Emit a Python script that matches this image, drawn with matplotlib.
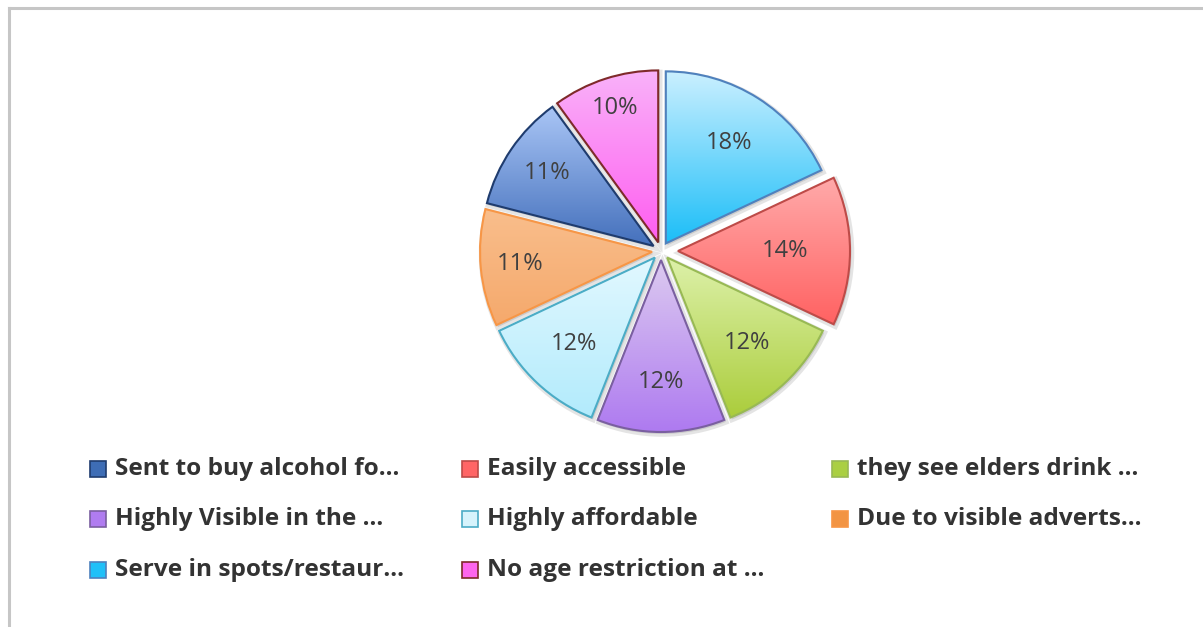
import matplotlib
matplotlib.use("Agg")
import matplotlib.pyplot as plt
import numpy as np
from matplotlib.patches import Wedge, Rectangle
from matplotlib.colors import LinearSegmentedColormap
from matplotlib.lines import Line2D

# Reasons, in legend order, with their share of responses (%)
categories = [
    "Sent to buy alcohol fo...",
    "Easily accessible",
    "they see elders drink ...",
    "Highly Visible in the ...",
    "Highly affordable",
    "Due to visible adverts...",
    "Serve in spots/restaur...",
    "No age restriction at ...",
]
shares = [11, 14, 12, 12, 12, 11, 18, 10]

# Order of slices, clockwise from 12 o'clock
pie_order = [
    "Serve in spots/restaur...",
    "Easily accessible",
    "they see elders drink ...",
    "Highly Visible in the ...",
    "Highly affordable",
    "Due to visible adverts...",
    "Sent to buy alcohol fo...",
    "No age restriction at ...",
]

# Per category styling: (gradient bottom, gradient top, edge, legend swatch)
styles = {
    "Sent to buy alcohol fo...":  ("#4470BC", "#AAC6F6", "#1F3C6E", "#3E6DB5"),
    "Easily accessible":          ("#FF6262", "#FFAAAA", "#BE4B48", "#FF6666"),
    "they see elders drink ...":  ("#ABCD3C", "#DDF1AA", "#98B954", "#AACF42"),
    "Highly Visible in the ...":  ("#AE7AF0", "#DCCAF0", "#7A5FA0", "#B07CF0"),
    "Highly affordable":          ("#B2EBFC", "#E2F8FF", "#4BACC6", "#D6F3FC"),
    "Due to visible adverts...":  ("#F5A96C", "#F9BE8C", "#F79646", "#F29443"),
    "Serve in spots/restaur...":  ("#1CBEF8", "#CCF0FF", "#4F81BD", "#20C0F8"),
    "No age restriction at ...":  ("#FF5EF0", "#F9B2F9", "#7F2A2A", "#FF66EE"),
}
# radial position of each percentage label, as a fraction of the radius
label_dist = {
    "Serve in spots/restaur...": 0.69,
    "Easily accessible": 0.62,
    "they see elders drink ...": 0.68,
    "Highly Visible in the ...": 0.71,
    "Highly affordable": 0.69,
    "Due to visible adverts...": 0.77,
    "Sent to buy alcohol fo...": 0.75,
    "No age restriction at ...": 0.82,
}

W, H = 1203, 627
fig = plt.figure(figsize=(W / 100, H / 100), dpi=100)
ax = fig.add_axes([0, 0, 1, 1])

vals = [shares[categories.index(c)] for c in pie_order]
cx, cy, R = 661, H - 251, 172
# slice offsets from the centre, in pixels (the red slice sits further out)
explode = [17 if c == "Easily accessible" else 9 for c in pie_order]

wedges, _, autotexts = ax.pie(
    vals, explode=explode, startangle=90, counterclock=False,
    center=(cx, cy), radius=R, autopct="%1.0f%%", pctdistance=0.72,
    frame=True, wedgeprops=dict(linewidth=1.5),
    textprops=dict(fontsize=17, color="#404040", family="Open Sans"),
)

for w, c, t in zip(wedges, pie_order, autotexts):
    bottom, top, edge, _ = styles[c]
    # soft grey shadow behind the slice
    sh = Wedge((w.center[0] + 1.5, w.center[1] - 2), w.r, w.theta1, w.theta2,
               facecolor="#9A9A9A", edgecolor="#C4C4C4", linewidth=4,
               alpha=0.45, zorder=1)
    ax.add_patch(sh)
    # vertical gradient fill clipped to the slice
    x0, y0, x1, y1 = w.get_path().get_extents().extents
    cmap = LinearSegmentedColormap.from_list("g", [bottom, top])
    grad = np.linspace(0, 1, 256).reshape(-1, 1)
    im = ax.imshow(grad, extent=[x0, x1, y0, y1], origin="lower", cmap=cmap,
                   aspect="auto", zorder=2, interpolation="bilinear")
    im.set_clip_path(w)
    w.set_facecolor("none")
    w.set_edgecolor(edge)
    w.set_zorder(3)
    # place the percentage label along the slice's bisector
    mid = np.deg2rad(0.5 * (w.theta1 + w.theta2))
    d = label_dist[c] * w.r
    t.set_position((w.center[0] + d * np.cos(mid), w.center[1] + d * np.sin(mid)))
    t.set_zorder(5)

ax.set_xlim(0, W)
ax.set_ylim(0, H)
ax.set_aspect("auto")
ax.axis("off")

# Chart frame (top and left edges visible)
ax.add_line(Line2D([8.5, 8.5], [0, H - 8], color="#C6C6C6", linewidth=2.2, zorder=0))
ax.add_line(Line2D([8.5, W], [H - 8, H - 8], color="#C6C6C6", linewidth=2.2, zorder=0))

# Legend laid out in three columns
col_x = [90, 462, 832]
row_y = [469, 519, 570]
for i, c in enumerate(categories):
    r, k = divmod(i, 3)
    bottom, top, edge, swatch = styles[c]
    x, y = col_x[k], H - row_y[r]
    ax.add_patch(Rectangle((x, y - 8), 16, 16, facecolor=swatch, edgecolor=edge,
                           linewidth=1.2, zorder=4))
    ax.text(x + 25, y, c, fontsize=17.6, fontweight="bold", color="#333333",
            family="Open Sans", va="center", ha="left", zorder=4)

fig.savefig("out.png", dpi=100)
